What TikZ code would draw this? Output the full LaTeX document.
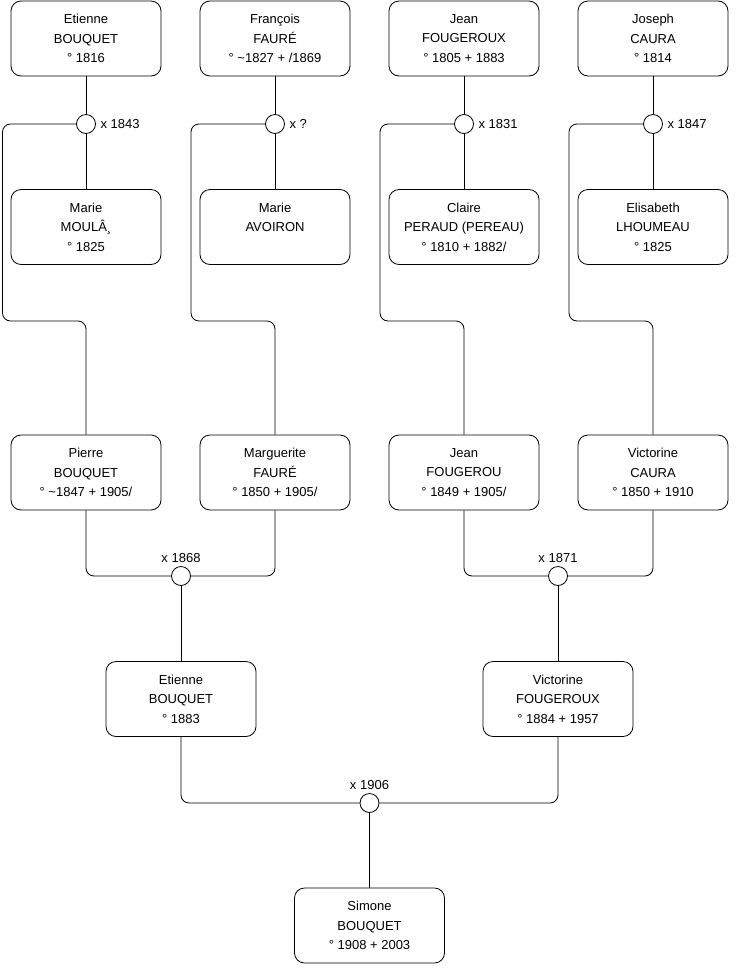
\documentclass[tikz,border=0pt]{standalone}
\usepackage{fontspec}
\setmainfont{Liberation Sans}
\begin{document}
\begin{tikzpicture}[x=1pt,y=-1pt,
  person/.style={draw, rounded corners=10pt, minimum width=150pt, minimum height=75pt, align=center, font=\fontsize{13}{19.5}\selectfont, inner sep=0pt, line width=0.8pt, fill=white},
  union/.style={draw, circle, minimum size=19pt, inner sep=0pt, fill=white, line width=0.8pt},
  link/.style={line width=0.8pt, rounded corners=8pt},
  ulabel/.style={font=\fontsize{13}{15}\selectfont, inner sep=0pt}]
\useasboundingbox (0,0) rectangle (740,975);
% top row
\node[person] (e1) at (86,38.5) {Etienne\\BOUQUET\\° 1816};
\node[person] (f1) at (275,38.5) {François\\FAURÉ\\° \textasciitilde1827 + /1869};
\node[person] (j1) at (464,38.5) {Jean\\FOUGEROUX\\° 1805 + 1883};
\node[person] (c1) at (653,38.5) {Joseph\\CAURA\\° 1814};
% unions
\node[union] (u1) at (86,124) {};
\node[union] (u2) at (275,124) {};
\node[union] (u3) at (464,124) {};
\node[union] (u4) at (653,124) {};
\node[ulabel, anchor=west] (l1) at ([xshift=4.5pt]u1.east) {x 1843};
\node[ulabel, anchor=west] (l2) at ([xshift=4.5pt]u2.east) {x ?};
\node[ulabel, anchor=west] (l3) at ([xshift=4.5pt]u3.east) {x 1831};
\node[ulabel, anchor=west] (l4) at ([xshift=4.5pt]u4.east) {x 1847};
% second row
\node[person] (m1) at (86,227) {Marie\\MOULÂ¸\\° 1825};
\node[person] (m2) at (275,227) {Marie\\AVOIRON\\\mbox{}};
\node[person] (m3) at (464,227) {Claire\\PERAUD (PEREAU)\\° 1810 + 1882/};
\node[person] (m4) at (653,227) {Elisabeth\\LHOUMEAU\\° 1825};
% third row
\node[person] (p1) at (86,472.5) {Pierre\\BOUQUET\\° \textasciitilde1847 + 1905/};
\node[person] (p2) at (275,472.5) {Marguerite\\FAURÉ\\° 1850 + 1905/};
\node[person] (p3) at (464,472.5) {Jean\\FOUGEROU\\° 1849 + 1905/};
\node[person] (p4) at (653,472.5) {Victorine\\CAURA\\° 1850 + 1910};
\node[union] (u5) at (181,576) {};
\node[union] (u6) at (558,576) {};
\node[ulabel] (l5) at ([yshift=18pt]u5) {x 1868};
\node[ulabel] (l6) at ([yshift=18pt]u6) {x 1871};
% fourth row
\node[person] (g1) at (181,699) {Etienne\\BOUQUET\\° 1883};
\node[person] (g2) at (558,699) {Victorine\\FOUGEROUX\\° 1884 + 1957};
\node[union] (u7) at (369.5,803) {};
\node[ulabel] (l7) at ([yshift=18pt]u7) {x 1906};
\node[person] (s1) at (369.5,925.5) {Simone\\BOUQUET\\° 1908 + 2003};
% bend points
\coordinate (b1) at (2.5,321);
\coordinate (b2) at (191,321);
\coordinate (b3) at (380,321);
\coordinate (b4) at (569,321);
% links
\foreach \t/\u/\m in {e1/u1/m1, f1/u2/m2, j1/u3/m3, c1/u4/m4}{
  \draw[link] (\t) -- (\u);
  \draw[link] (\u) -- (\m);
}
\draw[link] (u1.west) -| (b1) -| (p1.north);
\draw[link] (u2.west) -| (b2) -| (p2.north);
\draw[link] (u3.west) -| (b3) -| (p3.north);
\draw[link] (u4.west) -| (b4) -| (p4.north);
\draw[link] (p1.south) |- (u5.west);
\draw[link] (p2.south) |- (u5.east);
\draw[link] (p3.south) |- (u6.west);
\draw[link] (p4.south) |- (u6.east);
\draw[link] (u5) -- (g1);
\draw[link] (u6) -- (g2);
\draw[link] (g1.south) |- (u7.west);
\draw[link] (g2.south) |- (u7.east);
\draw[link] (u7) -- (s1);
\end{tikzpicture}
\end{document}
